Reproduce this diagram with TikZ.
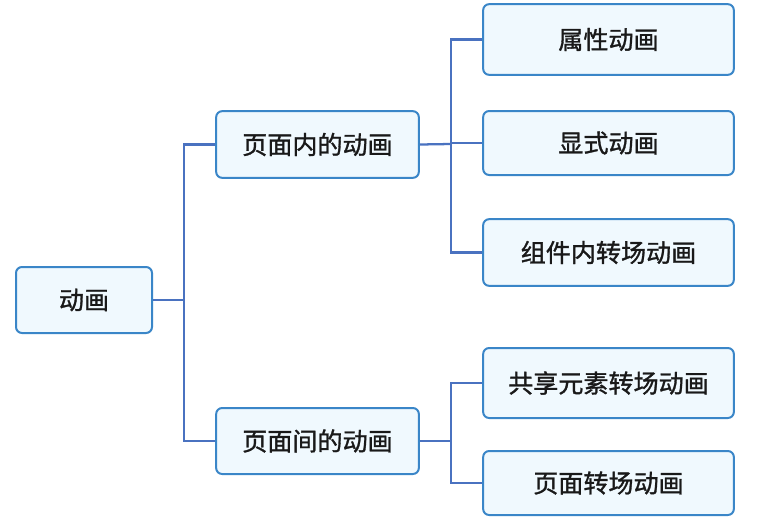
\documentclass[tikz,border=0pt]{standalone}
\usepackage{fontspec}
\newfontfamily\cjk[FakeBold=1.2]{Noto Sans CJK SC}
\usetikzlibrary{positioning}
\definecolor{boxline}{HTML}{3A86C8}
\definecolor{boxfill}{HTML}{F0F9FE}
\definecolor{linkline}{HTML}{4A72C0}
\tikzset{
	topic/.style={draw=boxline, fill=boxfill, line width=1.5pt, rounded corners=4.5pt,
		inner sep=0pt, text=black!90, font=\cjk\fontsize{18.8pt}{21pt}\selectfont},
	link/.style={draw=linkline, line width=1.7pt}
}

\begin{document}
\begin{tikzpicture}[x=0.75pt, y=-0.75pt]
	\useasboundingbox (0,0) rectangle (758,522);
	
	\node[topic, minimum width=102pt, minimum height=49.5pt] (Anim) at (84,300) {动画};
	
	\node[topic, minimum width=152pt, minimum height=50pt] (InPage) at (317.5,144.5) {页面内的动画};
	\node[topic, minimum width=152pt, minimum height=49.5pt] (Between) at (317.5,441) {页面间的动画};
	
	\node[topic, minimum width=188pt, minimum height=53pt] (Attr) at (608.5,39.5) {属性动画};
	\node[topic, minimum width=188pt, minimum height=48pt] (Explicit) at (608.5,143) {显式动画};
	\node[topic, minimum width=188pt, minimum height=50pt] (InComp) at (608.5,252.5) {组件内转场动画};
	
	\node[topic, minimum width=188pt, minimum height=52.5pt] (Shared) at (608.5,383) {共享元素转场动画};
	\node[topic, minimum width=188pt, minimum height=48pt] (PageTr) at (608.5,483) {页面转场动画};
	
	\coordinate (J1) at (184,300);
	\coordinate (J2) at (451,144);
	\coordinate (J3) at (451,441);
	
	\draw[link] (Anim.east) -- (J1);
	\draw[link] (J1) |- (InPage.west);
	\draw[link] (J1) |- (Between.west);
	
	\draw[link] (InPage.east) -- (J2);
	\draw[link] (J2) |- (Attr.west);
	\draw[link] (J2) |- (Explicit.west);
	\draw[link] (J2) |- (InComp.west);
	
	\draw[link] (Between.east) -- (J3);
	\draw[link] (J3) |- (Shared.west);
	\draw[link] (J3) |- (PageTr.west);
	
\end{tikzpicture}
\end{document}
